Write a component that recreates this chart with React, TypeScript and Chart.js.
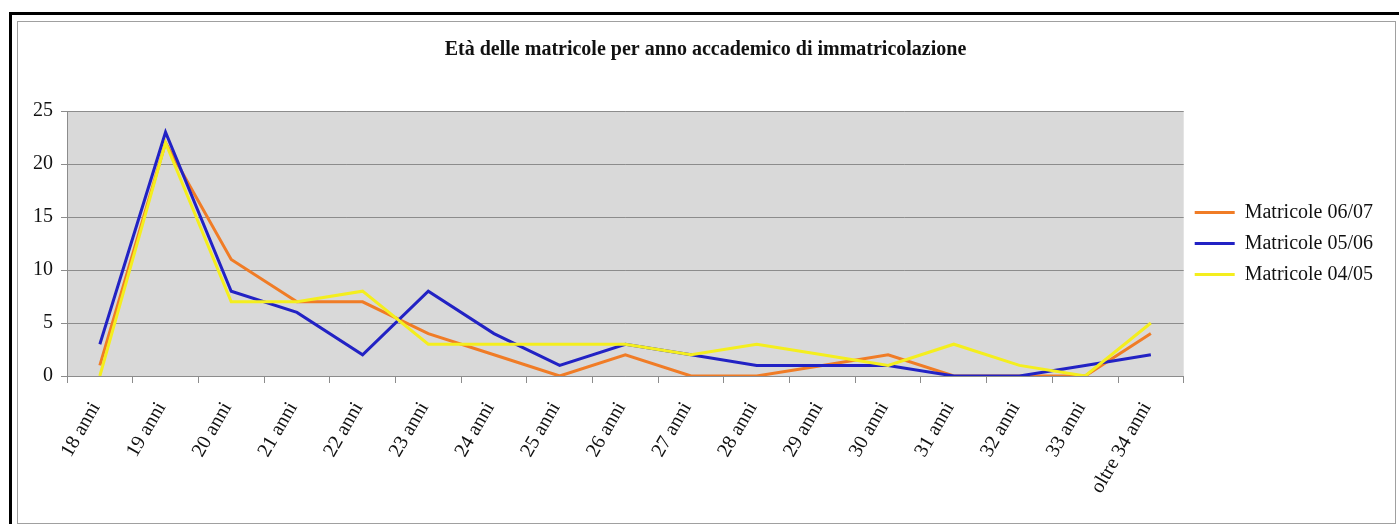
import React, { useEffect, useRef } from "react";
import { Chart, registerables } from "chart.js";

Chart.register(...registerables);

const categories = [
  "18 anni", "19 anni", "20 anni", "21 anni", "22 anni", "23 anni", "24 anni", "25 anni",
  "26 anni", "27 anni", "28 anni", "29 anni", "30 anni", "31 anni", "32 anni", "33 anni",
  "oltre 34 anni",
];
const matricole0607 = [1, 22, 11, 7, 7, 4, 2, 0, 2, 0, 0, 1, 2, 0, 0, 0, 4];
const matricole0506 = [3, 23, 8, 6, 2, 8, 4, 1, 3, 2, 1, 1, 1, 0, 0, 1, 2];
const matricole0405 = [0, 22, 7, 7, 8, 3, 3, 3, 3, 2, 3, 2, 1, 3, 1, 0, 5];
const seriesNames = ["Matricole 06/07", "Matricole 05/06", "Matricole 04/05"];
const yMin = 0;
const yMax = 25;
const yStep = 5;

const FONT = "'Liberation Serif', 'Times New Roman', serif";
const GRID = "#8c8c8c";

const framePlugin = {
  id: "frame",
  beforeDraw(chart: any) {
    const { ctx, chartArea } = chart;
    ctx.save();
    ctx.fillStyle = "#ffffff";
    ctx.fillRect(0, 0, chart.width, chart.height);
    ctx.strokeStyle = "#000000";
    ctx.lineWidth = 3;
    ctx.strokeRect(10.5, 13.5, chart.width + 20, chart.height + 20);
    ctx.strokeStyle = "#a0a0a0";
    ctx.lineWidth = 1;
    ctx.strokeRect(17.5, 21.5, 1378, 502);
    ctx.fillStyle = "#d9d9d9";
    ctx.fillRect(
      chartArea.left,
      chartArea.top,
      chartArea.right - chartArea.left,
      chartArea.bottom - chartArea.top
    );
    ctx.restore();
  },
};

export default function App() {
  const ref = useRef<HTMLCanvasElement | null>(null);

  useEffect(() => {
    if (!ref.current) return;
    const chart = new Chart(ref.current, {
      type: "line",
      data: {
        labels: categories,
        datasets: [
          {
            label: seriesNames[0],
            data: matricole0607,
            borderColor: "#f07c26",
            backgroundColor: "#f07c26",
            borderWidth: 3,
            pointRadius: 0,
            tension: 0,
            order: 3,
          },
          {
            label: seriesNames[1],
            data: matricole0506,
            borderColor: "#2222c4",
            backgroundColor: "#2222c4",
            borderWidth: 3,
            pointRadius: 0,
            tension: 0,
            order: 2,
          },
          {
            label: seriesNames[2],
            data: matricole0405,
            borderColor: "#f4ee1e",
            backgroundColor: "#f4ee1e",
            borderWidth: 3,
            pointRadius: 0,
            tension: 0,
            order: 1,
          },
        ],
      },
      options: {
        responsive: false,
        animation: false,
        events: [],
        devicePixelRatio: 1,
        layout: { padding: { left: 28, right: 16, top: 0, bottom: 0 } },
        plugins: {
          title: {
            display: true,
            text: "Età delle matricole per anno accademico di immatricolazione",
            color: "#111",
            font: { family: FONT, size: 20, weight: "bold", lineHeight: 1.2 },
            padding: { top: 38, bottom: 49 },
          },
          legend: {
            position: "right",
            align: "center",
            fullSize: false,
            labels: {
              sort: (a: any, b: any) => a.datasetIndex - b.datasetIndex,
              usePointStyle: true,
              pointStyle: "line",
              pointStyleWidth: 40,
              padding: 11,
              color: "#111",
              font: { family: FONT, size: 20 },
            },
          },
          tooltip: { enabled: false },
        },
        scales: {
          x: {
            type: "category",
            offset: true,
            grid: {
              offset: true,
              drawOnChartArea: false,
              drawTicks: true,
              tickLength: 7,
              color: GRID,
            },
            border: { color: GRID },
            ticks: {
              autoSkip: false,
              minRotation: 60,
              maxRotation: 60,
              padding: 15,
              labelOffset: -4,
              color: "#111",
              font: { family: FONT, size: 20 },
            },
            afterFit(scale: any) {
              scale.height = 148;
            },
          },
          y: {
            min: yMin,
            max: yMax,
            ticks: {
              stepSize: yStep,
              padding: 8,
              color: "#111",
              font: { family: FONT, size: 20 },
            },
            grid: { color: GRID, tickLength: 6 },
            border: { color: GRID },
            afterFit(scale: any) {
              scale.width = 39;
            },
          },
        },
      },
      plugins: [framePlugin],
    });
    return () => chart.destroy();
  }, []);

  return (
    <div style={{ position: "absolute", left: 0, top: 0, width: 1399, height: 524 }}>
      <canvas ref={ref} width={1399} height={524} style={{ display: "block", width: 1399, height: 524 }} />
    </div>
  );
}
